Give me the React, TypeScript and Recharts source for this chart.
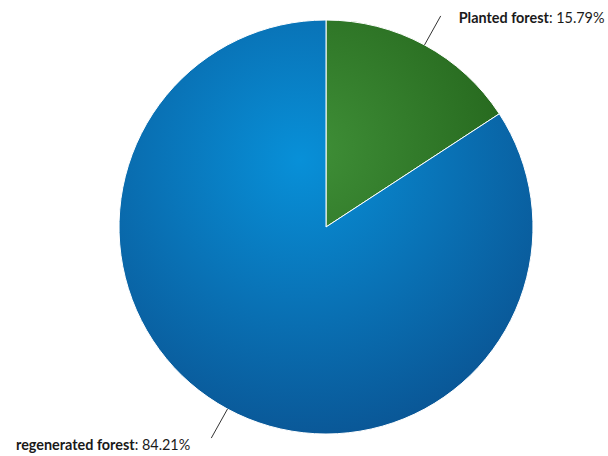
import { PieChart, Pie, Cell } from "recharts";

const names = ["Planted forest", "regenerated forest"];
const values = [15.79, 84.21];
const fills = ["url(#gradGreen)", "url(#gradBlue)"];

const data = names.map((name, i) => ({ name, value: values[i] }));

const RADIAN = Math.PI / 180;

const renderLabel = (props: any) => {
  const { cx, cy, midAngle, outerRadius, name, value } = props;
  const cos = Math.cos(-midAngle * RADIAN);
  const sin = Math.sin(-midAngle * RADIAN);
  const sx = cx + outerRadius * cos;
  const sy = cy + outerRadius * sin;
  const ex = cx + (outerRadius + 34) * cos;
  const ey = cy + (outerRadius + 33) * sin;
  const right = cos >= 0;
  const tx = ex + (right ? 18 : -21);
  const ty = ey + (sin < 0 ? 7 : 12);
  return (
    <g>
      <path d={`M${sx},${sy}L${ex},${ey}`} stroke="#333" strokeWidth={1} fill="none" />
      <text
        x={tx}
        y={ty}
        textAnchor={right ? "start" : "end"}
        fill="#1a1a1a"
        fontSize={14.4}
        fontFamily="Lato, 'Open Sans', sans-serif"
      >
        <tspan fontWeight="bold">{name}</tspan>
        <tspan>: {value.toFixed(2)}%</tspan>
      </text>
    </g>
  );
};

export default function App() {
  return (
    <div style={{ position: "absolute", left: 0, top: 0, background: "#fff" }}>
      <PieChart width={608} height={456} margin={{ top: 0, right: 0, bottom: 0, left: 0 }}>
        <defs>
          <radialGradient id="gradBlue" gradientUnits="userSpaceOnUse" cx={300} cy={160} r={300}>
            <stop offset="0%" stopColor="#0890d8" />
            <stop offset="100%" stopColor="#0a5392" />
          </radialGradient>
          <radialGradient id="gradGreen" gradientUnits="userSpaceOnUse" cx={310} cy={150} r={280}>
            <stop offset="0%" stopColor="#3f8f37" />
            <stop offset="100%" stopColor="#1d5a15" />
          </radialGradient>
        </defs>
        <Pie
          data={data}
          dataKey="value"
          nameKey="name"
          cx={326}
          cy={227}
          outerRadius={207}
          startAngle={90}
          endAngle={-270}
          stroke="#fff"
          strokeWidth={1}
          label={renderLabel}
          labelLine={false}
          isAnimationActive={false}
        >
          {data.map((d, i) => (
            <Cell key={d.name} fill={fills[i]} />
          ))}
        </Pie>
      </PieChart>
    </div>
  );
}
